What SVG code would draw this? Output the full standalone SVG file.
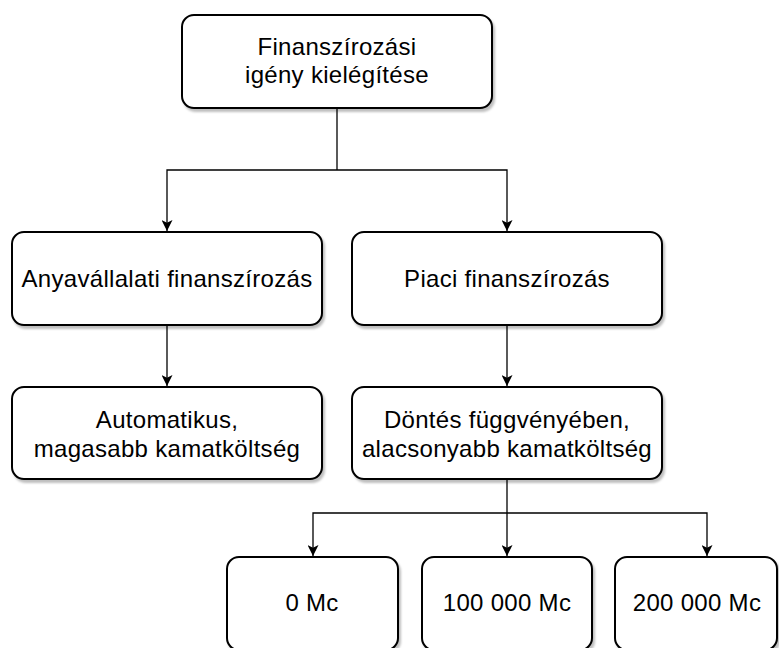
<svg xmlns="http://www.w3.org/2000/svg" width="779" height="648" viewBox="0 0 779 648">
<style>
.box{fill:#fff;stroke:#000;stroke-width:2;filter:url(#sh)}
.t{font-family:"Liberation Sans",Arial,sans-serif;font-size:24px;letter-spacing:0.3px;fill:#000;text-anchor:middle}
.c{fill:none;stroke:#000;stroke-width:1.3;marker-end:url(#ah)}
.l{fill:none;stroke:#000;stroke-width:1.3}
</style>
<defs>
<filter id="sh" x="-10%" y="-10%" width="130%" height="130%">
<feDropShadow dx="2" dy="3" stdDeviation="1.2" flood-color="#000" flood-opacity="0.25"/>
</filter>
<marker id="ah" viewBox="0 0 10 10" refX="10" refY="5" markerWidth="11" markerHeight="11" markerUnits="userSpaceOnUse" orient="auto">
<path d="M0,0 L10,5 L0,10 L2.5,5 Z" fill="#000"/>
</marker>
</defs>
<g id="connectors">
<path class="l" d="M337,108 V170"/>
<path class="c" d="M337,170 H167 V231"/>
<path class="c" d="M337,170 H507 V231"/>
<path class="c" d="M167,325 V386"/>
<path class="c" d="M507,325 V386"/>
<path class="c" d="M507,479 V556"/>
<path class="c" d="M507,513 H313 V556"/>
<path class="c" d="M507,513 H707 V556"/>
</g>
<g id="n1">
<rect class="box" x="182" y="15" width="310" height="93" rx="12"/>
<text class="t" x="337" y="55">Finanszírozási</text>
<text class="t" x="337" y="83">igény kielégítése</text>
</g>
<g id="n2">
<rect class="box" x="12" y="232" width="310" height="93" rx="12"/>
<text class="t" x="167" y="287">Anyavállalati finanszírozás</text>
</g>
<g id="n3">
<rect class="box" x="352" y="232" width="310" height="93" rx="12"/>
<text class="t" x="507" y="287">Piaci finanszírozás</text>
</g>
<g id="n4">
<rect class="box" x="12" y="387" width="310" height="92" rx="12"/>
<text class="t" x="167" y="428">Automatikus,</text>
<text class="t" x="167" y="457">magasabb kamatköltség</text>
</g>
<g id="n5">
<rect class="box" x="352" y="387" width="310" height="92" rx="12"/>
<text class="t" x="507" y="428">Döntés függvényében,</text>
<text class="t" x="507" y="457">alacsonyabb kamatköltség</text>
</g>
<g id="n6">
<rect class="box" x="227" y="557" width="171" height="93" rx="12"/>
<text class="t" x="312" y="611">0 Mc</text>
</g>
<g id="n7">
<rect class="box" x="422" y="557" width="170" height="93" rx="12"/>
<text class="t" x="507" y="611">100 000 Mc</text>
</g>
<g id="n8">
<rect class="box" x="615" y="557" width="162" height="93" rx="12"/>
<text class="t" x="697" y="611">200 000 Mc</text>
</g>
</svg>
